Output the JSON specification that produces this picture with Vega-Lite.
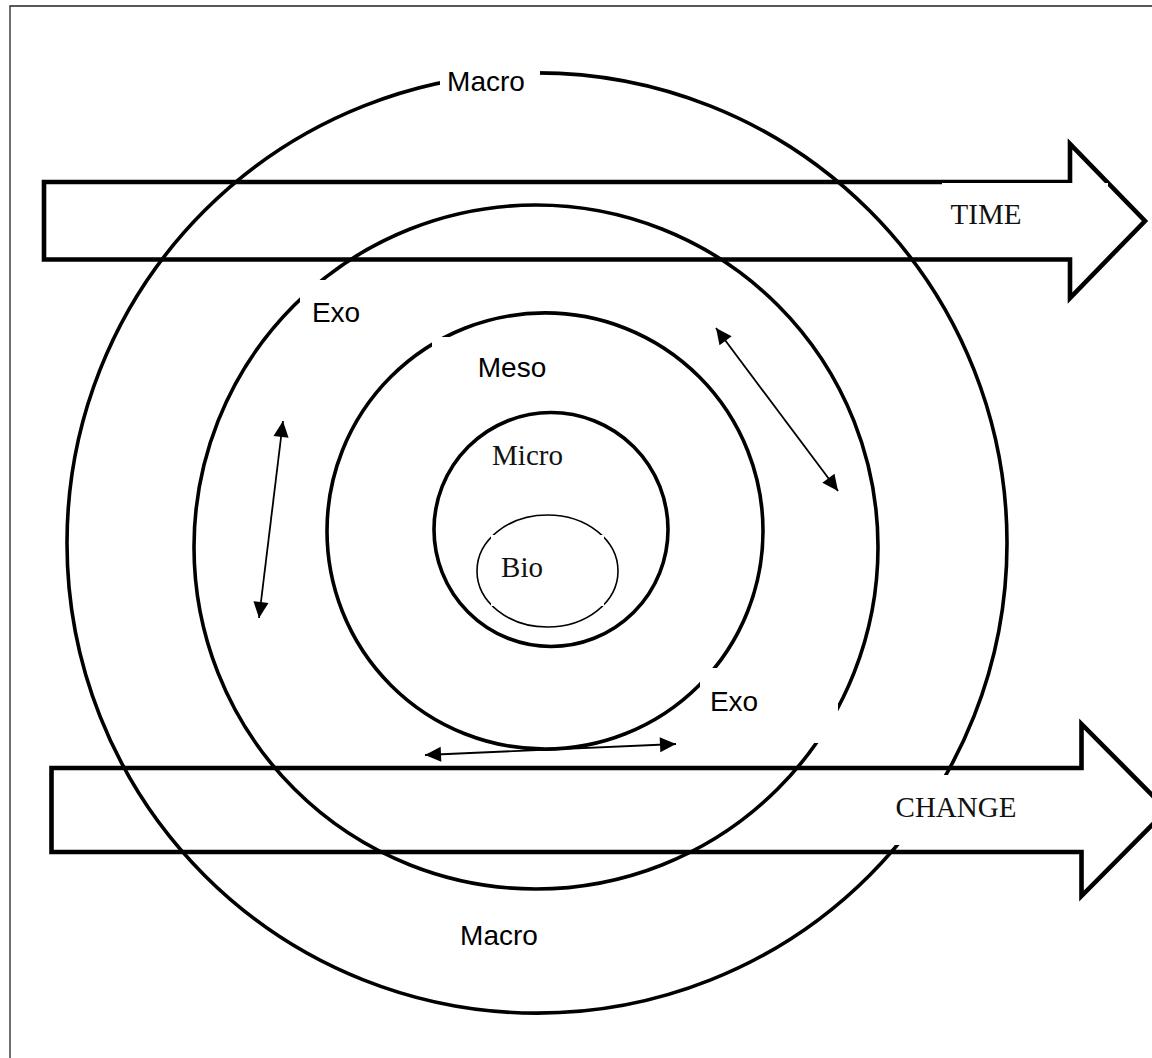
{
  "$schema": "https://vega.github.io/schema/vega-lite/v6.json",
  "width": 1152,
  "height": 1058,
  "autosize": "none",
  "padding": 0,
  "background": "white",
  "config": {"view": {"stroke": null}},
  "datasets": {
    "frame": [{"x": 10, "y": 6, "x2": 1175, "y2": 1080}],
    "rings": [
      {"ring": "Macro", "x": 537, "y": 543, "r": 470},
      {"ring": "Exo", "x": 536, "y": 547, "r": 342},
      {"ring": "Meso", "x": 545, "y": 531, "r": 218},
      {"ring": "Micro", "x": 551, "y": 529.5, "r": 117}
    ],
    "bio": [{"ring": "Bio", "x": 547.5, "y": 571, "r": 70.5}],
    "boxes": [
      {"box": "Macro top", "x": 440, "x2": 540, "y": 60, "y2": 100},
      {"box": "Exo top", "x": 300, "x2": 372, "y": 280, "y2": 335},
      {"box": "Meso", "x": 432, "x2": 634, "y": 337, "y2": 392},
      {"box": "Bio", "x": 491, "x2": 604, "y": 535, "y2": 606},
      {"box": "Exo bottom", "x": 700, "x2": 838, "y": 668, "y2": 743},
      {"box": "CHANGE", "x": 885, "x2": 1025, "y": 775, "y2": 845}
    ],
    "timebox": [{"box": "TIME", "x": 942, "x2": 1108, "y": 183, "y2": 250}],
    "arrows": [
      {"arrow": "TIME", "i": 0, "x": 44, "y": 182},
      {"arrow": "TIME", "i": 1, "x": 1070, "y": 182},
      {"arrow": "TIME", "i": 2, "x": 1070, "y": 144},
      {"arrow": "TIME", "i": 3, "x": 1145, "y": 221},
      {"arrow": "TIME", "i": 4, "x": 1070, "y": 298},
      {"arrow": "TIME", "i": 5, "x": 1070, "y": 259.5},
      {"arrow": "TIME", "i": 6, "x": 44, "y": 259.5},
      {"arrow": "TIME", "i": 7, "x": 44, "y": 182},
      {"arrow": "CHANGE", "i": 0, "x": 51.5, "y": 768},
      {"arrow": "CHANGE", "i": 1, "x": 1081.5, "y": 768},
      {"arrow": "CHANGE", "i": 2, "x": 1081.5, "y": 724},
      {"arrow": "CHANGE", "i": 3, "x": 1167, "y": 810},
      {"arrow": "CHANGE", "i": 4, "x": 1081.5, "y": 896},
      {"arrow": "CHANGE", "i": 5, "x": 1081.5, "y": 852},
      {"arrow": "CHANGE", "i": 6, "x": 51.5, "y": 852},
      {"arrow": "CHANGE", "i": 7, "x": 51.5, "y": 768}
    ],
    "links": [
      {"link": "left", "i": 0, "x": 283, "y": 421},
      {"link": "left", "i": 1, "x": 259, "y": 618},
      {"link": "right", "i": 0, "x": 716, "y": 328},
      {"link": "right", "i": 1, "x": 838, "y": 491},
      {"link": "bottom", "i": 0, "x": 425, "y": 755},
      {"link": "bottom", "i": 1, "x": 676, "y": 744}
    ],
    "heads": [
      {"link": "left", "x": 282.0, "y": 428.9, "angle": 6.9},
      {"link": "left", "x": 260.0, "y": 610.1, "angle": 186.9},
      {"link": "right", "x": 720.8, "y": 334.4, "angle": -36.8},
      {"link": "right", "x": 833.2, "y": 484.6, "angle": 143.2},
      {"link": "bottom", "x": 433, "y": 754.6, "angle": -92.5},
      {"link": "bottom", "x": 668, "y": 744.4, "angle": 87.5}
    ],
    "sanslabels": [
      {"label": "Macro", "x": 486, "y": 91},
      {"label": "Exo", "x": 336, "y": 322},
      {"label": "Meso", "x": 512, "y": 377},
      {"label": "Exo", "x": 734, "y": 711},
      {"label": "Macro", "x": 499, "y": 945}
    ],
    "seriflabels": [
      {"label": "TIME", "x": 986, "y": 224},
      {"label": "Micro", "x": 527.5, "y": 465},
      {"label": "Bio", "x": 522, "y": 577},
      {"label": "CHANGE", "x": 956, "y": 817}
    ]
  },
  "encoding": {
    "x": {"field": "x", "type": "quantitative", "scale": {"domain": [0, 1152], "nice": false, "zero": false}, "axis": null},
    "y": {"field": "y", "type": "quantitative", "scale": {"domain": [0, 1058], "nice": false, "zero": false, "reverse": true}, "axis": null}
  },
  "layer": [
    {
      "data": {"name": "frame"},
      "mark": {"type": "rect", "filled": false, "stroke": "#222222", "strokeWidth": 1.3},
      "encoding": {"x2": {"field": "x2"}, "y2": {"field": "y2"}}
    },
    {
      "data": {"name": "rings"},
      "mark": {"type": "point", "shape": "circle", "filled": false, "stroke": "black", "strokeWidth": 3.6, "opacity": 1},
      "encoding": {
        "size": {"field": "r", "type": "quantitative", "scale": {"type": "pow", "exponent": 2, "domain": [0, 500], "range": [0, 1000000]}, "legend": null}
      }
    },
    {
      "data": {"name": "bio"},
      "mark": {"type": "point", "shape": "M-1,0A1,0.794,0,1,0,1,0A1,0.794,0,1,0,-1,0Z", "filled": false, "stroke": "black", "strokeWidth": 1.6, "opacity": 1},
      "encoding": {
        "size": {"field": "r", "type": "quantitative", "scale": {"type": "pow", "exponent": 2, "domain": [0, 500], "range": [0, 1000000]}, "legend": null}
      }
    },
    {
      "data": {"name": "boxes"},
      "mark": {"type": "rect", "fill": "white", "strokeWidth": 0},
      "encoding": {"x2": {"field": "x2"}, "y2": {"field": "y2"}}
    },
    {
      "data": {"name": "arrows"},
      "mark": {"type": "line", "stroke": "black", "strokeWidth": 4.6, "strokeJoin": "miter", "strokeMiterLimit": 10, "strokeCap": "square"},
      "encoding": {"order": {"field": "i", "type": "quantitative"}, "detail": {"field": "arrow"}}
    },
    {
      "data": {"name": "timebox"},
      "mark": {"type": "rect", "fill": "white", "strokeWidth": 0},
      "encoding": {"x2": {"field": "x2"}, "y2": {"field": "y2"}}
    },
    {
      "data": {"name": "links"},
      "mark": {"type": "line", "stroke": "black", "strokeWidth": 1.8},
      "encoding": {"order": {"field": "i", "type": "quantitative"}, "detail": {"field": "link"}}
    },
    {
      "data": {"name": "heads"},
      "mark": {"type": "point", "shape": "M0,-1L0.95,1L-0.95,1Z", "filled": true, "fill": "black", "strokeWidth": 0, "size": 256, "opacity": 1},
      "encoding": {"angle": {"field": "angle", "type": "quantitative", "scale": null}}
    },
    {
      "data": {"name": "sanslabels"},
      "mark": {"type": "text", "font": "Liberation Sans", "fontSize": 28, "align": "center", "baseline": "alphabetic", "color": "black"},
      "encoding": {"text": {"field": "label"}}
    },
    {
      "data": {"name": "seriflabels"},
      "mark": {"type": "text", "font": "Liberation Serif", "fontSize": 29, "align": "center", "baseline": "alphabetic", "color": "#111111"},
      "encoding": {"text": {"field": "label"}}
    }
  ]
}
